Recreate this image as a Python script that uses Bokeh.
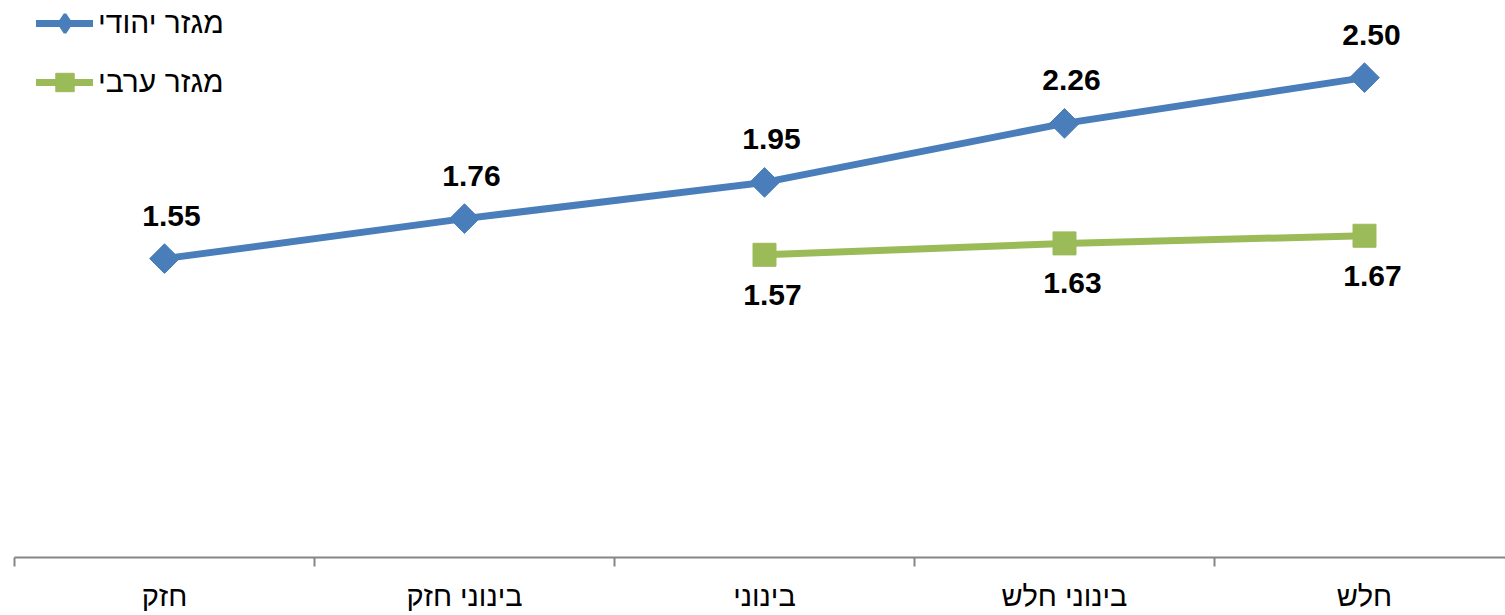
import math
from bokeh.plotting import figure
from bokeh.models import Range1d, FixedTicker, Legend, LegendItem, ColumnDataSource
from bokeh.core.properties import value
from bokeh.embed import file_html
from bokeh.resources import INLINE

categories = ["חזק", "בינוני חזק", "בינוני", "בינוני חלש", "חלש"]
jewish_values = [1.55, 1.76, 1.95, 2.26, 2.50]
arab_categories_idx = [2, 3, 4]
arab_values = [1.57, 1.63, 1.67]
series_names = ["מגזר יהודי", "מגזר ערבי"]

BLUE = "#4a7ebb"
GREEN = "#9bbb59"
FONT = "Liberation Sans"

p = figure(width=1505, height=615, output_backend="svg", toolbar_location=None,
           x_range=Range1d(-0.5, 4.47), y_range=Range1d(-0.019, 2.905),
           min_border_left=14, min_border_right=0, min_border_top=0, min_border_bottom=58)
p.outline_line_color = None
p.xgrid.visible = False
p.ygrid.visible = False
p.yaxis.visible = False
p.background_fill_color = "white"
p.border_fill_color = "white"

xj = list(range(len(categories)))
src_j = ColumnDataSource(dict(x=xj, y=jewish_values, t=[f"{v:.2f}" for v in jewish_values]))
src_a = ColumnDataSource(dict(x=arab_categories_idx, y=arab_values, t=[f"{v:.2f}" for v in arab_values]))

lj = p.line("x", "y", source=src_j, line_color=BLUE, line_width=7, line_cap="round")
# diamond-shaped marker (used for the legend swatch), covered by the rotated squares
dj = p.scatter("x", "y", source=src_j, marker="diamond", size=20,
               fill_color=BLUE, line_color=BLUE, line_width=3)
sj = p.scatter("x", "y", source=src_j, marker="square", angle=math.pi / 4, size=21,
               fill_color=BLUE, line_color=BLUE)
la = p.line("x", "y", source=src_a, line_color=GREEN, line_width=7, line_cap="round")
sa = p.scatter("x", "y", source=src_a, marker="square", size=23,
               fill_color=GREEN, line_color=GREEN)

p.text("x", "y", text="t", source=src_j, x_offset=7, y_offset=-43,
       text_align="center", text_baseline="middle", text_font=value(FONT),
       text_font_style="bold", text_font_size="30px", text_color="black")
p.text("x", "y", text="t", source=src_a, x_offset=8, y_offset=40,
       text_align="center", text_baseline="middle", text_font=value(FONT),
       text_font_style="bold", text_font_size="30px", text_color="black")

ax = p.xaxis[0]
ax.ticker = FixedTicker(ticks=xj, minor_ticks=[i - 0.5 for i in range(len(categories) + 1)])
ax.major_label_overrides = {i: c for i, c in enumerate(categories)}
ax.major_tick_out = 0
ax.major_tick_in = 0
ax.minor_tick_out = 9
ax.minor_tick_in = 0
ax.minor_tick_line_color = "#868686"
ax.minor_tick_line_width = 2
ax.axis_line_color = "#868686"
ax.axis_line_width = 2
ax.major_label_standoff = 13
ax.major_label_text_font = FONT
ax.major_label_text_font_size = "29px"
ax.major_label_text_color = "black"

legend = Legend(items=[LegendItem(label=series_names[0], renderers=[lj, dj]),
                       LegendItem(label=series_names[1], renderers=[la, sa])],
                location=(22, 557 - 105), glyph_width=57, glyph_height=46,
                label_standoff=5, spacing=13, padding=0, margin=0,
                label_text_font=FONT, label_text_font_size="30px", label_text_color="black",
                background_fill_alpha=0, border_line_color=None)
p.add_layout(legend)

open("out.html", "w").write(file_html(p, INLINE))
